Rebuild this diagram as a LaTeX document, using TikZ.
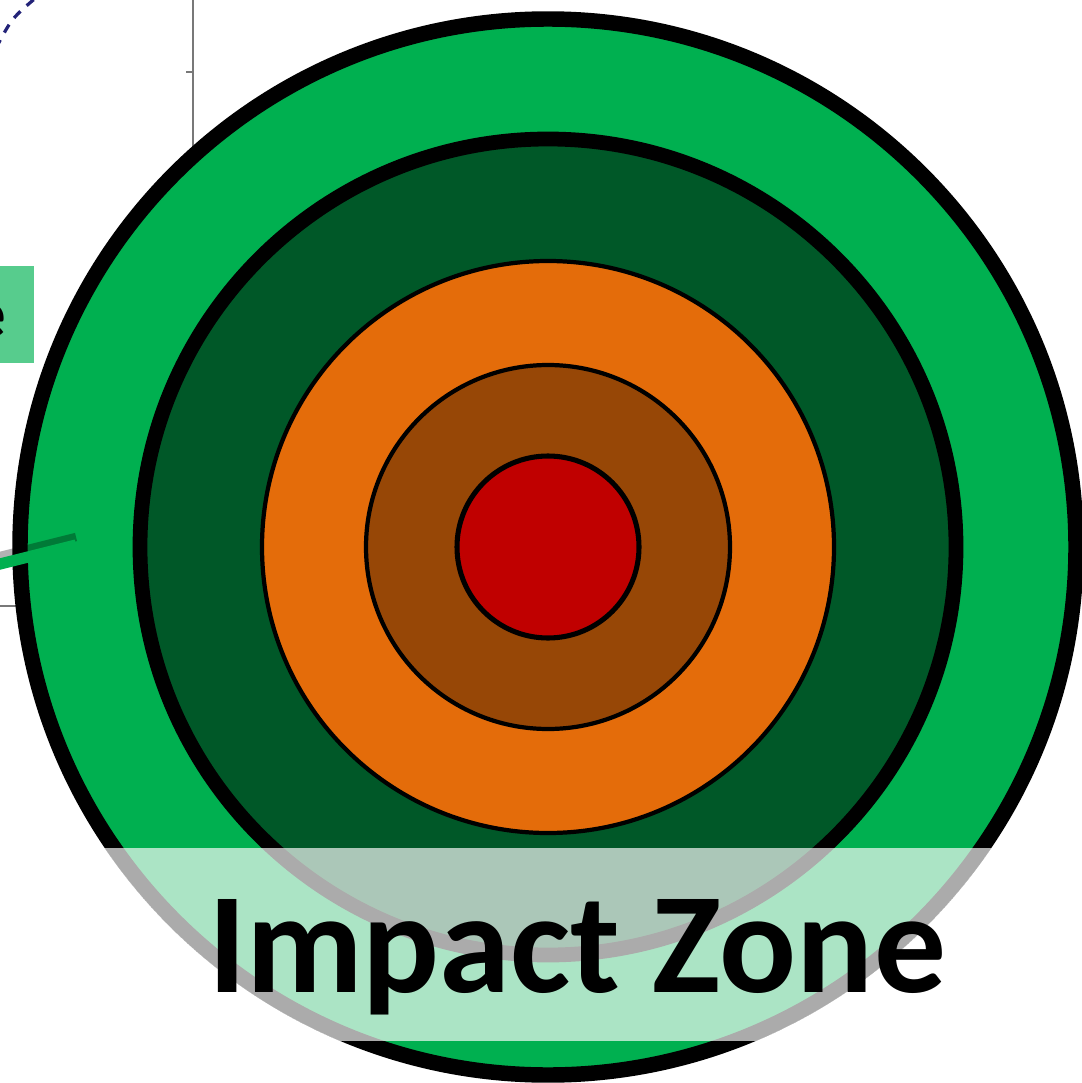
\documentclass[tikz,border=0pt]{standalone}
\usepackage{fontspec}
\setmainfont{Carlito}
\usetikzlibrary{positioning}
\definecolor{ZoneGreen}{RGB}{0,176,80}
\definecolor{DeepGreen}{RGB}{0,88,40}
\definecolor{ZoneOrange}{RGB}{228,108,10}
\definecolor{ZoneBrown}{RGB}{151,71,6}
\definecolor{ZoneRed}{RGB}{192,0,0}
\definecolor{BoxGreen}{RGB}{87,204,141}
\definecolor{AxisGray}{RGB}{120,120,120}
\definecolor{CurveNavy}{RGB}{35,35,120}
\tikzset{
  thickring/.style={draw=black,line width=11pt},
  thinring/.style={draw=black,line width=3pt},
  axisline/.style={draw=AxisGray,line width=1.3pt},
  band/.style={fill=white,fill opacity=0.67},
  zonetext/.style={font=\bfseries\fontsize{102}{122}\selectfont,inner sep=0pt}
}
\begin{document}
\begin{tikzpicture}[x=0.025cm,y=-0.025cm]
  \useasboundingbox (0,0) rectangle (1081,1083);
  % chart left behind the target
  \draw[CurveNavy,line width=2.3pt,dash pattern=on 6.5pt off 6pt]
    (-4,48) .. controls (12,18) .. (38,-4);
  \draw[axisline] (193,-2) -- (193,170);
  \draw[axisline] (186,72) -- (193,72);
  \draw[axisline,line width=1pt] (-2,606) -- (30,606);
  \fill[BoxGreen] (-60,266) rectangle (34,363);
  \node[font=\bfseries\fontsize{49}{58}\selectfont,inner sep=0pt,anchor=base east]
    (cutlabel) at (6,337) {e};

  % rings, outside in
  \coordinate (centre) at (548,547);
  \fill[ZoneGreen] (centre) circle (528);
  \draw[thickring] (centre) circle (528);
  \fill[DeepGreen] (centre) circle (408);
  \draw[thickring,line width=10.5pt] (centre) circle (408);
  \filldraw[ZoneOrange,thinring] (centre) circle (286);
  \filldraw[ZoneBrown,thinring] (centre) circle (182);
  \filldraw[ZoneRed,thinring,line width=3.6pt] (centre) circle (91);

  % pointer stripe
  \draw[black,opacity=0.3,line width=6pt] (-4,557) -- (76,537);
  \draw[ZoneGreen,line width=8pt] (-4,565) -- (76,545);

  % label band
  \begin{scope}
    \clip (centre) circle (536);
    \fill[band] (-10,848) rectangle (1100,1041);
  \end{scope}
  \node[zonetext,anchor=base] (zone) at (577,992) {Impact Zone};
\end{tikzpicture}
\end{document}
